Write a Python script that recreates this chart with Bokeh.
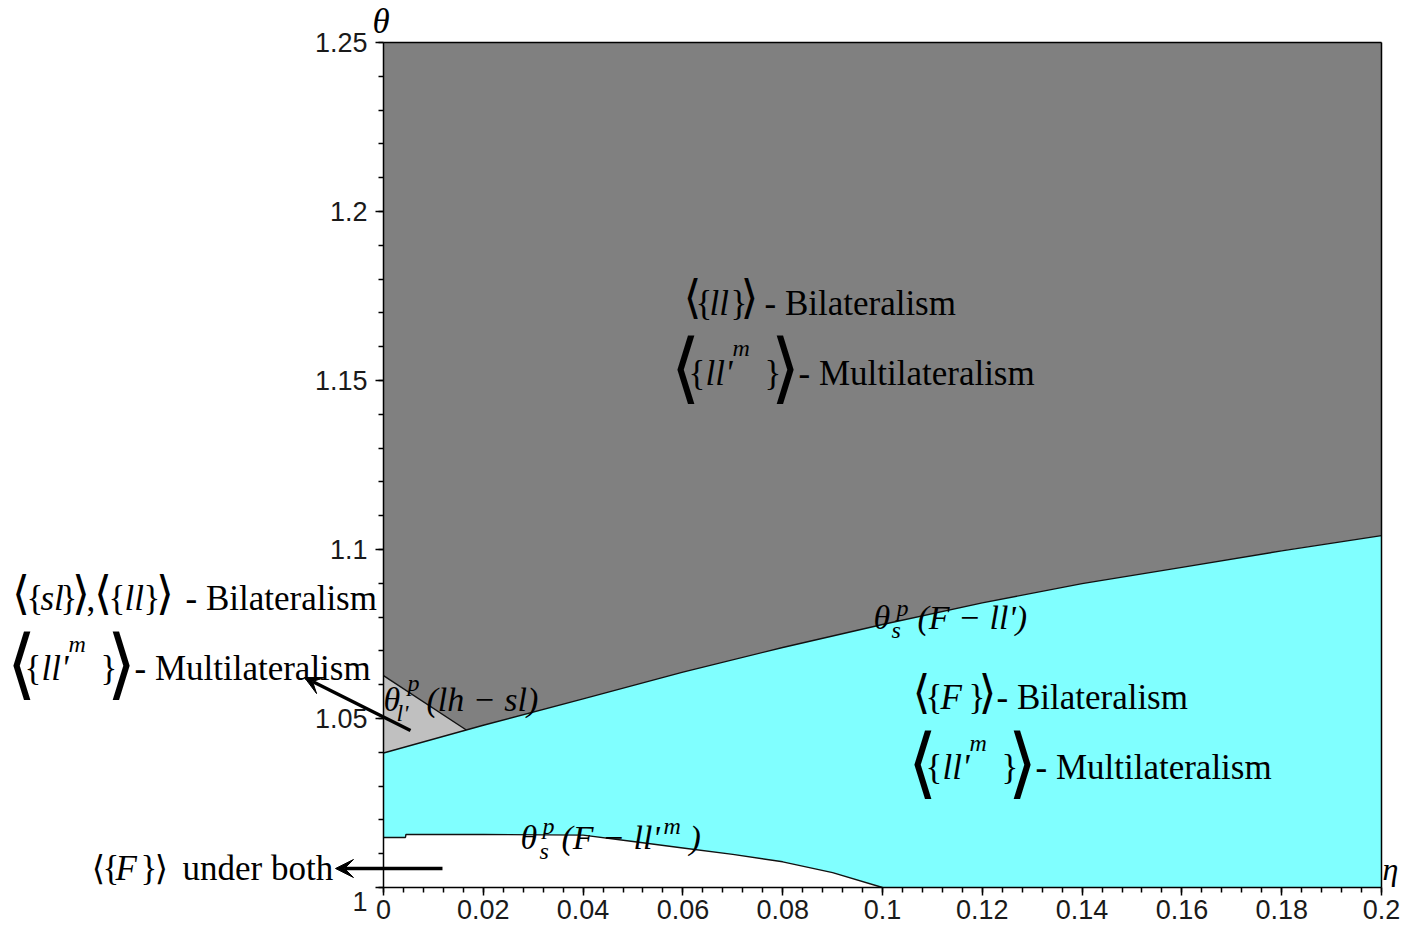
import numpy as np
from bokeh.plotting import figure
from bokeh.models import Label, Arrow, VeeHead, FixedTicker, Range1d, LinearAxis
from bokeh.embed import file_html
from bokeh.resources import INLINE

# ---------------- data ----------------
# upper boundary  theta_s^p(F - ll')
eta_upper = [0.0, 0.02, 0.04, 0.06, 0.08, 0.10, 0.12, 0.14, 0.16, 0.18, 0.20]
theta_upper = [1.0398, 1.0480, 1.0558, 1.0637, 1.0710, 1.0778, 1.0842, 1.0899, 1.0947, 1.0996, 1.1041]

# lower boundary  theta_s^p(F - ll'^m)
eta_lower = [0.0, 0.0044, 0.0045, 0.02, 0.04, 0.05, 0.06, 0.07, 0.08, 0.09, 0.10]
theta_lower = [1.0148, 1.0148, 1.0157, 1.0157, 1.0155, 1.0136, 1.0117, 1.0098, 1.0076, 1.0044, 1.0]

# boundary theta_l'^p(lh - sl)
eta_lhsl = [0.0, 0.0166]
theta_lhsl = [1.0627, 1.0466]

x_ticks = [0.0, 0.02, 0.04, 0.06, 0.08, 0.10, 0.12, 0.14, 0.16, 0.18, 0.20]
x_tick_labels = ["0", "0.02", "0.04", "0.06", "0.08", "0.1", "0.12", "0.14", "0.16", "0.18", "0.2"]
y_ticks = [1.0, 1.05, 1.1, 1.15, 1.2, 1.25]
y_tick_labels = ["", "1.05", "1.1", "1.15", "1.2", "1.25"]

X_MIN, X_MAX = 0.0, 0.2
Y_MIN, Y_MAX = 1.0, 1.25

GRAY = "#808080"
CYAN = "#80FFFF"
LIGHT = "#C0C0C0"
SERIF = "Liberation Serif"
SANS = "Liberation Sans"
BR_FONT = "DejaVu Sans"

# ---------------- layout: the frame fills the canvas, axes sit at fixed locations ----------------
W, H = 1400, 924
PX_X0, PX_X1 = 383, 1381      # canvas pixels of eta = 0 and eta = 0.2
PX_Y0, PX_Y1 = 887, 42        # canvas pixels of theta = 1 and theta = 1.25
kx = (X_MAX - X_MIN) / (PX_X1 - PX_X0)
ky = (Y_MAX - Y_MIN) / (PX_Y0 - PX_Y1)
x_range = Range1d(X_MIN - PX_X0 * kx, X_MIN + (W - PX_X0) * kx)
y_range = Range1d(Y_MIN - (H - PX_Y0) * ky, Y_MIN + PX_Y0 * ky)

p = figure(width=W, height=H, output_backend="svg", toolbar_location=None,
           x_range=x_range, y_range=y_range, x_axis_location=None, y_axis_location=None,
           min_border=0)
p.min_border_left = p.min_border_right = p.min_border_top = p.min_border_bottom = 0
p.background_fill_color = "white"
p.border_fill_color = "white"
p.outline_line_color = None
p.grid.visible = False

# regions
p.varea(x=eta_upper, y1=theta_upper, y2=[Y_MAX] * len(eta_upper), fill_color=GRAY)
p.varea(x=eta_upper, y1=[Y_MIN] * len(eta_upper), y2=theta_upper, fill_color=CYAN)
p.varea(x=eta_lower, y1=[Y_MIN] * len(eta_lower), y2=theta_lower, fill_color="white")
p.patch(x=[eta_lhsl[0], eta_lhsl[1], eta_upper[0]], y=[theta_lhsl[0], theta_lhsl[1], theta_upper[0]],
        fill_color=LIGHT, line_color=None)

# boundaries
for xs, ys in ((eta_upper, theta_upper), (eta_lower, theta_lower), (eta_lhsl, theta_lhsl)):
    p.line(xs, ys, line_color="#111111", line_width=1.4)


def style_axis(ax):
    ax.axis_line_color = "black"
    ax.axis_line_width = 1.5
    ax.major_tick_line_color = "black"
    ax.minor_tick_line_color = "black"
    ax.major_tick_line_width = 1.5
    ax.minor_tick_line_width = 1.5
    ax.major_tick_in = 0
    ax.major_tick_out = 8
    ax.minor_tick_in = 0
    ax.minor_tick_out = 5
    ax.major_label_text_font = SANS
    ax.major_label_text_font_size = "27px"
    ax.major_label_text_color = "#1a1a1a"


xaxis = LinearAxis(fixed_location=Y_MIN, bounds=(X_MIN, X_MAX),
                   ticker=FixedTicker(ticks=x_ticks, minor_ticks=list(np.round(np.arange(0, 0.2001, 0.004), 4))),
                   major_label_overrides={t: l for t, l in zip(x_ticks, x_tick_labels)})
yaxis = LinearAxis(fixed_location=X_MIN, bounds=(Y_MIN, Y_MAX),
                   ticker=FixedTicker(ticks=y_ticks, minor_ticks=list(np.round(np.arange(1.0, 1.2501, 0.01), 3))),
                   major_label_overrides={t: l for t, l in zip(y_ticks, y_tick_labels)})
style_axis(xaxis)
style_axis(yaxis)
xaxis.major_label_standoff = 4
yaxis.major_label_standoff = 8
p.add_layout(xaxis, "below")
p.add_layout(yaxis, "left")

# frame box (top and right edges)
top = LinearAxis(fixed_location=Y_MAX, bounds=(X_MIN, X_MAX), ticker=FixedTicker(ticks=[]))
right = LinearAxis(fixed_location=X_MAX, bounds=(Y_MIN, Y_MAX), ticker=FixedTicker(ticks=[]))
for ax in (top, right):
    style_axis(ax)
    ax.major_tick_out = 0
    ax.minor_tick_out = 0
p.add_layout(top, "above")
p.add_layout(right, "right")

BASE_FIX = 0.3   # em: lifts alphabetic-baseline labels onto the intended baseline


def lab(x, y, text, dx=0, dy=0, size=35, style="normal", font=SERIF, align="left", baseline="alphabetic",
        color="black"):
    if baseline == "alphabetic":
        dy = dy + BASE_FIX * size
    p.add_layout(Label(x=x, y=y, x_offset=dx, y_offset=dy, text=text, text_font=font,
                       text_font_size=f"{size}px", text_font_style=style, text_align=align,
                       text_baseline=baseline, text_color=color))


def group(x, y, parts):
    for part in parts:
        if part[0] == "b":  # bracket: ("b", dx, dy_center, char, size)
            _, dx, dy, ch, size = part
            lab(x, y, ch, dx=dx, dy=dy + 5, size=size, font=BR_FONT, align="center", baseline="middle")
        else:  # ("t", dx, dy, text, size, style)
            _, dx, dy, txt, size, style = part
            lab(x, y, txt, dx=dx, dy=dy, size=size, style=style)


multi_parts = [("b", 7, 11, "⟨", 77), ("t", 10, 0, "{", 35, "normal"), ("t", 27, 0, "ll'", 35, "italic"),
               ("t", 54, 28, "m", 24, "italic"), ("t", 86, 0, "}", 35, "normal"), ("b", 107, 11, "⟩", 77),
               ("t", 120, 0, "- Multilateralism", 35, "normal")]

# gray region
group(0.06052, 1.16982, [("b", 7, 11.5, "⟨", 46), ("t", 10, 0, "{", 35, "normal"), ("t", 24, 0, "ll", 35, "italic"),
                         ("t", 45, 0, "}", 35, "normal"), ("b", 64, 11.5, "⟩", 46),
                         ("t", 79, 0, "- Bilateralism", 35, "normal")])
group(0.05912, 1.14911, multi_parts)

# cyan region
group(0.10661, 1.05296, [("b", 6, 11.5, "⟨", 46), ("t", 10, 0, "{", 35, "normal"), ("t", 25, 0, "F", 35, "italic"),
                         ("t", 53, 0, "}", 35, "normal"), ("b", 72, 11.5, "⟩", 46),
                         ("t", 81, 0, "- Bilateralism", 35, "normal")])
group(0.10661, 1.03225, multi_parts)

# left side labels
group(-0.07395, 1.08225, [("b", 6.5, 11.5, "⟨", 46), ("t", 12, 0, "{", 35, "normal"), ("t", 26, 0, "sl", 35, "italic"),
                          ("t", 46, 0, "}", 35, "normal"), ("b", 66.5, 11.5, "⟩", 46), ("t", 72, 0, ",", 35, "normal"),
                          ("b", 88.5, 11.5, "⟨", 46), ("t", 94, 0, "{", 35, "normal"), ("t", 110, 0, "ll", 35, "italic"),
                          ("t", 129, 0, "}", 35, "normal"), ("b", 150.5, 11.5, "⟩", 46),
                          ("t", 171, 0, "- Bilateralism", 35, "normal")])
group(-0.07395, 1.06154, multi_parts)
group(-0.05832, 1.00266, [("b", 6, 5.5, "⟨", 34), ("t", 10, 0, "{", 35, "normal"), ("t", 23, 0, "F", 35, "italic"),
                          ("t", 48, 0, "}", 35, "normal"), ("b", 69, 5.5, "⟩", 34),
                          ("t", 90, 0, "under both", 35, "normal")])

# boundary labels
group(0.0, 1.05266, [("t", 0, 0, "θ", 34, "italic"), ("t", 24, 19, "p", 24, "italic"),
                     ("t", 13, -11, "l'", 24, "italic"), ("t", 43, 0, "(lh − sl)", 34, "italic")])
group(0.0982, 1.07692, [("t", 0, 0, "θ", 34, "italic"), ("t", 23, 12, "p", 24, "italic"),
                        ("t", 18, -10, "s", 24, "italic"), ("t", 44, 0, "(F − ll')", 34, "italic")])
group(0.02745, 1.01183, [("t", 0, 0, "θ", 34, "italic"), ("t", 22, 14, "p", 24, "italic"),
                         ("t", 19, -11, "s", 24, "italic"), ("t", 41, 0, "(F − ll'", 34, "italic"),
                         ("t", 143, 14, "m", 24, "italic"), ("t", 169, 0, ")", 34, "italic")])

# axis names
lab(-0.0022, 1.25296, "θ", size=35, style="italic")
lab(0.2002, 1.00266, "η", size=32, style="italic")
# y-axis "1" label (drawn slightly below its tick as in the original)
lab(-0.0032, 0.99586, "1", size=27, font=SANS, align="right", baseline="middle", color="#1a1a1a")

# arrows
p.add_layout(Arrow(end=VeeHead(size=18, fill_color="black", line_color="black"),
                   x_start=0.00541, y_start=1.04645, x_end=-0.01583, y_end=1.06213,
                   line_width=3.5, line_color="black"))
p.add_layout(Arrow(end=VeeHead(size=18, fill_color="black", line_color="black"),
                   x_start=0.01182, y_start=1.00562, x_end=-0.00962, y_end=1.00562,
                   line_width=3.5, line_color="black"))

open("out.html", "w").write(file_html(p, INLINE))
